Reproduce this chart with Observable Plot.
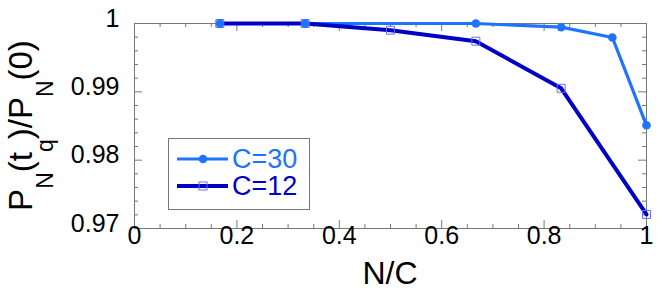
<!DOCTYPE html>
<html>
<head>
<meta charset="utf-8">
<script src="https://cdn.jsdelivr.net/npm/d3@7"></script>
<script src="https://cdn.jsdelivr.net/npm/@observablehq/plot@0.6"></script>
<style>
  html, body { margin: 0; padding: 0; background: #fff; }
  #chart { width: 664px; height: 296px; }
  svg { font-family: "Liberation Sans", Arial, Helvetica, sans-serif; }
</style>
</head>
<body>
<div id="chart"></div>
<script>
// ---- data ----
const c30N = [1/6, 1/3, 2/3, 5/6, 14/15, 1];
const c30P = [1.0, 1.0, 1.0, 0.99946, 0.99795, 0.98510];
const c12N = [1/6, 1/3, 1/2, 2/3, 5/6, 1];
const c12P = [1.0, 1.0, 0.99902, 0.99741, 0.99052, 0.97205];
const seriesNames = ["C=30", "C=12"];
const seriesColors = ["#1e74ff", "#0000c4"];
const xTickVals = [0, 0.2, 0.4, 0.6, 0.8, 1];
const xTickLabels = ["0", "0.2", "0.4", "0.6", "0.8", "1"];
const xMinorTicks = [0.05, 0.1, 0.15, 0.25, 0.3, 0.35, 0.45, 0.5, 0.55, 0.65, 0.7, 0.75, 0.85, 0.9, 0.95];
const yTickVals = [0.97, 0.98, 0.99, 1];
const yTickLabels = ["0.97", "0.98", "0.99", "1"];
const yMinorTicks = [0.972, 0.974, 0.976, 0.978, 0.982, 0.984, 0.986, 0.988, 0.992, 0.994, 0.996, 0.998];
const xLabel = "N/C";

const c30 = c30N.map((n, i) => ({n, p: c30P[i]}));
const c12 = c12N.map((n, i) => ({n, p: c12P[i]}));

const W = 664, H = 296;
const mL = 134, mR = 18, mT = 23, mB = 68;
const pw = W - mL - mR, ph = H - mT - mB;
const tickColor = "#777";
const xt = xTickVals.map((v, i) => ({v, l: xTickLabels[i]}));
const yt = yTickVals.map((v, i) => ({v, l: yTickLabels[i]}));

const chart = Plot.plot({
  width: W, height: H,
  marginLeft: mL, marginRight: mR, marginTop: mT, marginBottom: mB,
  x: {domain: [0, 1], axis: null},
  y: {domain: [0.97, 1], axis: null},
  style: {fontFamily: '"Liberation Sans", Arial, Helvetica, sans-serif', background: "white"},
  marks: [
    Plot.frame({stroke: tickColor, strokeWidth: 1}),
    // left / right ticks
    Plot.tickY(yMinorTicks, {y: d => d, stroke: tickColor, insetRight: pw - 4}),
    Plot.tickY(yTickVals, {y: d => d, stroke: tickColor, insetRight: pw - 8}),
    Plot.tickY(yMinorTicks, {y: d => d, stroke: tickColor, insetLeft: pw - 4}),
    Plot.tickY(yTickVals, {y: d => d, stroke: tickColor, insetLeft: pw - 8}),
    // bottom / top ticks
    Plot.tickX(xMinorTicks, {x: d => d, stroke: tickColor, insetTop: ph - 4}),
    Plot.tickX(xTickVals, {x: d => d, stroke: tickColor, insetTop: ph - 8}),
    Plot.tickX(xMinorTicks, {x: d => d, stroke: tickColor, insetBottom: ph - 4}),
    Plot.tickX(xTickVals, {x: d => d, stroke: tickColor, insetBottom: ph - 8}),
    // tick labels
    Plot.text(yt, {y: "v", text: "l", frameAnchor: "left", textAnchor: "end", dx: -15, dy: -5, fontSize: 25, fill: "black"}),
    Plot.text(xt, {x: "v", text: "l", frameAnchor: "bottom", dy: 15, fontSize: 25, fill: "black"}),
    // series
    Plot.line(c30, {x: "n", y: "p", stroke: seriesColors[0], strokeWidth: 3.2}),
    Plot.line(c12, {x: "n", y: "p", stroke: seriesColors[1], strokeWidth: 4}),
    Plot.dot(c12, {x: "n", y: "p", symbol: "square", r: 4.5, stroke: "#6b6bff", strokeWidth: 1, fill: "none"}),
    Plot.dot(c30, {x: "n", y: "p", symbol: "circle", r: 4.3, fill: seriesColors[0], stroke: "none"})
  ]
});
document.getElementById("chart").appendChild(chart);

const svg = d3.select(chart);
const font = '"Liberation Sans", Arial, Helvetica, sans-serif';

// x axis label
svg.append("text")
  .attr("x", mL + pw / 2).attr("y", 284)
  .attr("text-anchor", "middle")
  .attr("font-family", font).attr("font-size", 32).attr("fill", "black")
  .text(xLabel);

// y axis label with subscripts
const yl = svg.append("text")
  .attr("transform", `translate(32,${mT + ph / 2}) rotate(-90)`)
  .attr("text-anchor", "middle")
  .attr("font-family", font).attr("font-size", 33).attr("fill", "black");
const parts = [["P", 0], ["N", 1], ["(t", 0], ["q", 1], [")/P", 0], ["N", 1], ["(0)", 0]];
let prevSub = false;
parts.forEach(([t, sub]) => {
  const ts = yl.append("tspan").text(t);
  if (sub) { ts.attr("font-size", 23).attr("dy", 21); }
  else if (prevSub) { ts.attr("dy", -21); }
  prevSub = !!sub;
});

// legend
const lg = svg.append("g");
lg.append("rect").attr("x", 168.5).attr("y", 138.5).attr("width", 141).attr("height", 71)
  .attr("fill", "white").attr("stroke", tickColor).attr("stroke-width", 1);
const rows = [159, 186];
seriesNames.forEach((name, i) => {
  const y = rows[i];
  lg.append("line").attr("x1", 177).attr("x2", 228).attr("y1", y).attr("y2", y)
    .attr("stroke", seriesColors[i]).attr("stroke-width", i === 0 ? 3.2 : 4);
  if (i === 0) {
    lg.append("circle").attr("cx", 203).attr("cy", y).attr("r", 4.3).attr("fill", seriesColors[0]);
  } else {
    lg.append("rect").attr("x", 199).attr("y", y - 4).attr("width", 8).attr("height", 8)
      .attr("fill", "none").attr("stroke", "#6b6bff").attr("stroke-width", 1);
  }
  lg.append("text").attr("x", 232).attr("y", y + 9)
    .attr("text-anchor", "start")
    .attr("font-family", font).attr("font-size", 27).attr("fill", seriesColors[i])
    .text(name);
});
</script>
</body>
</html>
